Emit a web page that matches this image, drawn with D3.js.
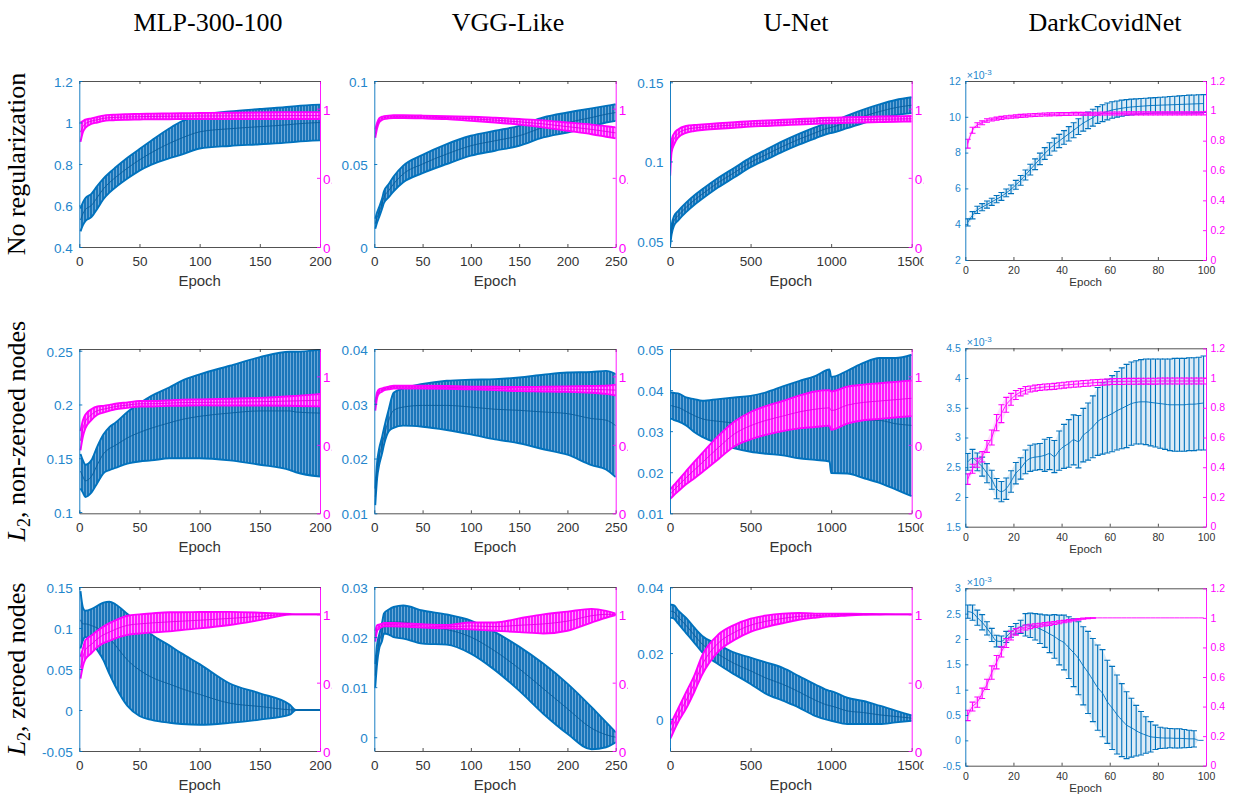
<!DOCTYPE html>
<html>
<head>
<meta charset="utf-8">
<script src="https://cdn.jsdelivr.net/npm/d3@7"></script>
<style>
html,body{margin:0;padding:0;background:#fff;}
svg{display:block;}
</style>
</head>
<body>
<svg id="chart" width="1237" height="798"></svg>
<script>
// ---------------- text ----------------
const columnTitles = ["MLP-300-100", "VGG-Like", "U-Net", "DarkCovidNet"];
const rowTitles = ["No regularization", ", non-zeroed nodes", ", zeroed nodes"];
const xLabel = "Epoch";
const dcnScaleLabel = ["×10", "-3"];

// ---------------- epochs (x samples) ----------------
const epochsMLP = [1,3,5,10,15,20,25,30,40,50,60,75,85,100,125,150,175,180,200];
const epochsVGG = [1,3,5,8,10,15,20,30,50,75,100,125,150,175,200,225,240,250];
const epochsUNet = [1,10,25,50,100,150,200,300,400,500,600,700,800,900,990,1000,1100,1200,1300,1400,1500];
const epochsDCN = [1,3,5,7,9,11,13,15,17,19,21,23,25,27,29,31,33,35,37,39,41,43,45,47,49,51,53,55,57,59,61,63,65,67,69,71,73,75,77,79,81,83,85,87,89,91,93,95,97,99];

// ---------------- ticks ----------------
const xTicksMLP = [0,50,100,150,200];
const xTicksVGG = [0,50,100,150,200,250];
const xTicksUNet = [0,500,1000,1500];
const xTicksDCN = [0,20,40,60,80,100];
const rightTicks = [0,0.5,1];
const rightTicksDCN = [0,0.2,0.4,0.6,0.8,1,1.2];
const yTicksMLPNone = [0.4,0.6,0.8,1,1.2];
const yTicksVGGNone = [0,0.05,0.1];
const yTicksUNetNone = [0.05,0.1,0.15];
const yTicksDCNNone = [2,4,6,8,10,12];
const yTicksMLPL2 = [0.1,0.15,0.2,0.25];
const yTicksVGGL2 = [0.01,0.02,0.03,0.04];
const yTicksUNetL2 = [0.01,0.02,0.03,0.04,0.05];
const yTicksDCNL2 = [1.5,2,2.5,3,3.5,4,4.5];
const yTicksMLPZero = [-0.05,0,0.05,0.1,0.15];
const yTicksVGGZero = [0,0.01,0.02,0.03];
const yTicksUNetZero = [0,0.02,0.04];
const yTicksDCNZero = [-0.5,0,0.5,1,1.5,2,2.5,3];

// ---------------- MLP-300-100 ----------------
const mlpNoneBlue    = [0.53,0.56,0.58,0.60,0.64,0.68,0.71,0.735,0.78,0.82,0.855,0.90,0.925,0.955,0.97,0.98,0.99,0.993,1.0];
const mlpNoneBlueErr = [0.055,0.055,0.055,0.056,0.055,0.05,0.048,0.048,0.05,0.052,0.058,0.072,0.08,0.08,0.083,0.085,0.086,0.086,0.086];
const mlpNonePink    = [0.83,0.87,0.89,0.91,0.92,0.93,0.935,0.937,0.94,0.942,0.944,0.945,0.946,0.947,0.948,0.949,0.95,0.95,0.95];
const mlpNonePinkErr = [0.07,0.04,0.03,0.02,0.02,0.02,0.02,0.02,0.02,0.02,0.02,0.021,0.021,0.022,0.023,0.024,0.025,0.025,0.025];

const mlpL2Blue    = [0.138,0.133,0.129,0.133,0.144,0.154,0.159,0.162,0.169,0.174,0.178,0.183,0.186,0.189,0.192,0.194,0.194,0.193,0.192];
const mlpL2BlueErr = [0.016,0.015,0.015,0.015,0.017,0.018,0.02,0.021,0.024,0.027,0.03,0.033,0.036,0.039,0.044,0.05,0.055,0.056,0.059];
const mlpL2Pink    = [0.53,0.62,0.67,0.72,0.75,0.76,0.77,0.78,0.79,0.80,0.80,0.805,0.808,0.81,0.812,0.815,0.82,0.821,0.826];
const mlpL2PinkErr = [0.07,0.06,0.05,0.04,0.03,0.025,0.022,0.02,0.02,0.02,0.02,0.02,0.022,0.022,0.025,0.028,0.035,0.037,0.045];

const mlpZeroBlue    = [0.11,0.105,0.105,0.103,0.10,0.096,0.088,0.079,0.061,0.0487,0.04,0.0315,0.026,0.019,0.0083,0.0043,0.0003,0,0];
const mlpZeroBlueErr = [0.035,0.02,0.016,0.02,0.027,0.035,0.044,0.05,0.056,0.056,0.052,0.047,0.043,0.037,0.024,0.016,0.006,0,0];
const mlpZeroPink    = [0.61,0.685,0.74,0.78,0.82,0.85,0.87,0.89,0.92,0.93,0.937,0.945,0.95,0.957,0.97,0.985,1.0,1.0,1.0];
const mlpZeroPinkErr = [0.08,0.065,0.07,0.065,0.06,0.06,0.065,0.066,0.07,0.07,0.07,0.07,0.065,0.06,0.048,0.027,0.002,0,0];

// ---------------- VGG-Like ----------------
const vggNoneBlue    = [0.014,0.018,0.021,0.026,0.03,0.034,0.038,0.044,0.05,0.056,0.061,0.064,0.067,0.072,0.075,0.078,0.08,0.081];
const vggNoneBlueErr = [0.003,0.003,0.003,0.003,0.0035,0.004,0.0045,0.005,0.0055,0.006,0.006,0.006,0.006,0.006,0.006,0.0055,0.005,0.005];
const vggNonePink    = [0.82,0.88,0.915,0.93,0.935,0.94,0.942,0.942,0.94,0.935,0.927,0.917,0.905,0.89,0.87,0.85,0.835,0.825];
const vggNonePinkErr = [0.03,0.02,0.015,0.012,0.01,0.01,0.01,0.01,0.01,0.01,0.015,0.017,0.02,0.025,0.03,0.035,0.038,0.04];

const vggL2Blue    = [0.013,0.018,0.0203,0.0224,0.024,0.027,0.0288,0.0294,0.0297,0.0297,0.0294,0.029,0.0288,0.0285,0.0282,0.0273,0.027,0.026];
const vggL2BlueErr = [0.0015,0.0015,0.0015,0.0015,0.0015,0.002,0.0032,0.0034,0.0039,0.0045,0.005,0.0055,0.006,0.0068,0.0075,0.0085,0.009,0.0094];
const vggL2Pink    = [0.78,0.866,0.89,0.90,0.907,0.915,0.922,0.922,0.922,0.92,0.915,0.912,0.907,0.907,0.907,0.905,0.902,0.90];
const vggL2PinkErr = [0.03,0.02,0.015,0.012,0.01,0.01,0.01,0.01,0.01,0.01,0.01,0.012,0.015,0.017,0.02,0.025,0.03,0.04];

const vggZeroBlue    = [0.0123,0.0168,0.019,0.021,0.0227,0.023,0.023,0.023,0.022,0.0215,0.02,0.0172,0.0137,0.0097,0.0057,0.0018,0.0005,0.0];
const vggZeroBlueErr = [0.0023,0.0019,0.0014,0.0018,0.002,0.0025,0.003,0.0033,0.0033,0.003,0.0033,0.0038,0.0044,0.005,0.005,0.0042,0.0025,0.001];
const vggZeroPink    = [0.84,0.90,0.91,0.92,0.925,0.925,0.925,0.922,0.915,0.91,0.915,0.91,0.92,0.93,0.95,0.99,1.0,1.0];
const vggZeroPinkErr = [0.04,0.02,0.015,0.012,0.012,0.012,0.012,0.012,0.012,0.012,0.025,0.03,0.05,0.07,0.07,0.05,0.025,0.005];

// ---------------- U-Net ----------------
const unetNoneBlue    = [0.05,0.057,0.0625,0.0657,0.071,0.0755,0.0794,0.0867,0.093,0.0994,0.1045,0.1095,0.114,0.118,0.1213,0.1215,0.125,0.1285,0.1315,0.134,0.1355];
const unetNoneBlueErr = [0.003,0.003,0.003,0.003,0.003,0.003,0.003,0.003,0.003,0.003,0.0032,0.0033,0.0034,0.0035,0.0035,0.0035,0.004,0.0042,0.0045,0.0048,0.005];
const unetNonePink    = [0.57,0.73,0.78,0.82,0.85,0.86,0.866,0.875,0.882,0.89,0.895,0.9,0.905,0.91,0.915,0.915,0.918,0.92,0.923,0.925,0.927];
const unetNonePinkErr = [0.055,0.045,0.04,0.03,0.025,0.022,0.02,0.02,0.02,0.02,0.02,0.02,0.02,0.02,0.02,0.02,0.02,0.02,0.02,0.02,0.02];

const unetL2Blue    = [0.0362,0.0362,0.036,0.0358,0.0348,0.0338,0.033,0.0324,0.032,0.0318,0.032,0.0325,0.0328,0.0332,0.0338,0.0315,0.0322,0.0326,0.0326,0.0318,0.0314];
const unetL2BlueErr = [0.0032,0.0032,0.0033,0.0034,0.0034,0.004,0.0044,0.0054,0.0062,0.0068,0.0075,0.0084,0.0094,0.0102,0.0112,0.0117,0.0125,0.014,0.0152,0.016,0.0172];
const unetL2Pink    = [0.14,0.15,0.17,0.2,0.26,0.315,0.37,0.48,0.58,0.64,0.68,0.71,0.74,0.76,0.77,0.75,0.79,0.81,0.82,0.83,0.84];
const unetL2PinkErr = [0.035,0.035,0.037,0.04,0.048,0.06,0.07,0.085,0.09,0.1,0.105,0.11,0.12,0.13,0.13,0.14,0.135,0.13,0.13,0.13,0.13];

const unetZeroBlue    = [0.0327,0.0327,0.0325,0.031,0.0284,0.0255,0.0227,0.0196,0.0168,0.0146,0.0123,0.0105,0.0082,0.0057,0.004,0.0039,0.0024,0.0019,0.0012,0.0007,0.0002];
const unetZeroBlueErr = [0.002,0.002,0.002,0.002,0.0023,0.0023,0.0025,0.003,0.0033,0.004,0.0048,0.005,0.0048,0.0048,0.0045,0.0045,0.004,0.0035,0.0028,0.0018,0.0008];
const unetZeroPink    = [0.14,0.16,0.2,0.26,0.37,0.49,0.63,0.79,0.868,0.92,0.95,0.97,0.985,0.99,0.995,0.995,0.998,1.0,1.0,1.0,1.0];
const unetZeroPinkErr = [0.05,0.05,0.05,0.05,0.06,0.06,0.07,0.062,0.055,0.048,0.042,0.035,0.025,0.015,0.01,0.01,0.006,0.003,0.001,0,0];

// ---------------- DarkCovidNet (blue values in units of 1e-3) ----------------
const dcnNoneBlue    = [4.1,4.5,4.8,4.95,5.1,5.25,5.4,5.55,5.75,5.95,6.2,6.45,6.75,7.05,7.35,7.65,7.95,8.2,8.45,8.65,8.85,9.05,9.25,9.45,9.65,9.8,9.95,10.1,10.2,10.3,10.38,10.43,10.48,10.52,10.55,10.57,10.59,10.61,10.63,10.64,10.65,10.66,10.67,10.68,10.69,10.7,10.71,10.72,10.73,10.74];
const dcnNoneBlueErr = [0.2,0.2,0.2,0.2,0.2,0.2,0.2,0.22,0.22,0.24,0.25,0.27,0.28,0.3,0.3,0.32,0.33,0.35,0.36,0.37,0.38,0.4,0.42,0.44,0.45,0.46,0.47,0.47,0.47,0.47,0.46,0.45,0.45,0.44,0.44,0.43,0.43,0.43,0.43,0.43,0.44,0.45,0.46,0.47,0.48,0.49,0.5,0.5,0.5,0.5];
const dcnNonePink    = [0.78,0.87,0.905,0.92,0.935,0.942,0.948,0.953,0.957,0.96,0.963,0.966,0.968,0.97,0.972,0.974,0.975,0.976,0.977,0.978,0.979,0.979,0.98,0.98,0.98,0.981,0.981,0.981,0.982,0.982,0.982,0.982,0.982,0.983,0.983,0.983,0.983,0.983,0.983,0.983,0.983,0.983,0.983,0.983,0.983,0.983,0.983,0.983,0.983,0.983];
const dcnNonePinkErr = [0.03,0.02,0.015,0.013,0.012,0.01,0.01,0.01,0.01,0.01,0.01,0.01,0.01,0.01,0.01,0.01,0.01,0.01,0.01,0.01,0.01,0.01,0.01,0.01,0.01,0.01,0.01,0.01,0.01,0.01,0.01,0.01,0.01,0.01,0.01,0.01,0.01,0.01,0.01,0.01,0.01,0.01,0.01,0.01,0.01,0.01,0.01,0.01,0.01,0.01];

const dcnL2Blue    = [2.59,2.65,2.59,2.51,2.4,2.29,2.14,2.09,2.14,2.26,2.4,2.48,2.59,2.65,2.67,2.68,2.7,2.73,2.68,2.78,2.85,2.9,2.96,2.93,3.04,3.1,3.18,3.27,3.32,3.36,3.4,3.45,3.49,3.53,3.57,3.59,3.6,3.6,3.59,3.58,3.57,3.56,3.55,3.55,3.55,3.55,3.56,3.56,3.57,3.58];
const dcnL2BlueErr = [0.14,0.15,0.15,0.16,0.16,0.16,0.17,0.17,0.18,0.18,0.18,0.18,0.2,0.22,0.22,0.22,0.27,0.27,0.27,0.33,0.37,0.4,0.42,0.44,0.45,0.48,0.52,0.57,0.6,0.62,0.64,0.66,0.68,0.7,0.7,0.7,0.71,0.72,0.73,0.74,0.75,0.76,0.77,0.78,0.78,0.78,0.78,0.78,0.78,0.79];
const dcnL2Pink    = [0.32,0.39,0.43,0.47,0.54,0.6,0.7,0.76,0.82,0.857,0.886,0.905,0.918,0.926,0.932,0.936,0.94,0.942,0.944,0.948,0.952,0.955,0.958,0.96,0.963,0.965,0.968,0.97,0.972,0.974,0.976,0.977,0.977,0.978,0.978,0.978,0.979,0.979,0.979,0.979,0.98,0.98,0.98,0.98,0.98,0.98,0.98,0.98,0.98,0.98];
const dcnL2PinkErr = [0.035,0.03,0.03,0.035,0.04,0.05,0.055,0.06,0.05,0.04,0.03,0.025,0.025,0.02,0.02,0.02,0.02,0.02,0.02,0.02,0.02,0.02,0.02,0.02,0.02,0.02,0.02,0.02,0.02,0.02,0.02,0.02,0.02,0.02,0.02,0.02,0.02,0.02,0.02,0.02,0.02,0.02,0.02,0.02,0.02,0.02,0.02,0.02,0.02,0.02];

const dcnZeroBlue    = [2.54,2.52,2.42,2.33,2.21,2.08,1.96,1.95,2.04,2.14,2.2,2.24,2.28,2.27,2.24,2.2,2.155,2.1,2.05,1.98,1.93,1.83,1.73,1.62,1.47,1.34,1.19,1.04,0.93,0.76,0.64,0.51,0.4,0.3,0.25,0.19,0.14,0.105,0.07,0.06,0.05,0.045,0.045,0.04,0.04,0.035,0.03,0.03,0,0];
const dcnZeroBlueErr = [0.13,0.15,0.15,0.15,0.13,0.13,0.115,0.11,0.11,0.105,0.105,0.13,0.22,0.24,0.26,0.29,0.32,0.37,0.43,0.49,0.54,0.61,0.67,0.72,0.77,0.81,0.82,0.84,0.86,0.82,0.82,0.78,0.72,0.66,0.58,0.5,0.43,0.36,0.3,0.24,0.21,0.2,0.19,0.19,0.19,0.18,0.17,0.16,0,0];
const dcnZeroPink    = [0.34,0.4,0.43,0.49,0.55,0.63,0.7,0.77,0.83,0.88,0.905,0.92,0.935,0.942,0.948,0.952,0.957,0.96,0.965,0.97,0.975,0.98,0.985,0.99,0.995,0.997,0.999,1,1,1,1,1,1,1,1,1,1,1,1,1,1,1,1,1,1,1,1,1,1,1];
const dcnZeroPinkErr = [0.035,0.03,0.035,0.035,0.035,0.045,0.045,0.035,0.03,0.03,0.022,0.017,0.017,0.015,0.012,0.012,0.011,0.011,0.01,0.01,0.008,0.008,0.006,0.005,0.004,0.003,0.002,0,0,0,0,0,0,0,0,0,0,0,0,0,0,0,0,0,0,0,0,0,0,0];

// ---------------- y domains ----------------
const yDomains = [
  [[0.4,1.2],[0,0.1],[0.046,0.1508],[2,12]],
  [[0.0988,0.2516],[0.01,0.04],[0.01,0.05],[1.5,4.5]],
  [[-0.05,0.15],[-0.00275,0.03],[-0.0098,0.0401],[-0.5,3]]
];
const rightDomain = [0,1.2];

// ---------------- layout / style ----------------
const BLUE = "#0072BD", MAG = "#FF00FF", BLUE_TXT = "#2386cc", AX_GRAY = "#262626";
const SANS = "'Liberation Sans', Arial, Helvetica, sans-serif";
const SERIF = "'Liberation Serif', 'Times New Roman', Times, serif";
const colX = [[79.3,320],[374.3,615.7],[670,911.7],[965.3,1206]];
const rowY = [[81,247],[349,513.3],[587,751]];
const rowYDCN = [[81,260],[348.3,526.7],[588.3,765.7]];
const clipRight = [331.8, 628, 923.5, null];
const titleX = [208, 508, 796, 1105];

const svg = d3.select("#chart");
const defs = svg.append("defs");
function stripePattern(id, light, dark){
  const p = defs.append("pattern").attr("id", id).attr("patternUnits","userSpaceOnUse").attr("width",3).attr("height",4);
  p.append("rect").attr("width",3).attr("height",4).attr("fill",light);
  p.append("rect").attr("width",2).attr("height",4).attr("fill",dark);
}
stripePattern("stripeB", "#6aa8d8", "#1a76ba");
stripePattern("stripeM", "#ff9cff", "#ff1aff");

const fmt = d => String(+d.toFixed(6));

const columns = [
  {epochs: epochsMLP, xDomain:[0,200], xTicks:xTicksMLP, yTicks:[yTicksMLPNone,yTicksMLPL2,yTicksMLPZero],
   data:[[mlpNoneBlue,mlpNoneBlueErr,mlpNonePink,mlpNonePinkErr],[mlpL2Blue,mlpL2BlueErr,mlpL2Pink,mlpL2PinkErr],[mlpZeroBlue,mlpZeroBlueErr,mlpZeroPink,mlpZeroPinkErr]]},
  {epochs: epochsVGG, xDomain:[0,250], xTicks:xTicksVGG, yTicks:[yTicksVGGNone,yTicksVGGL2,yTicksVGGZero],
   data:[[vggNoneBlue,vggNoneBlueErr,vggNonePink,vggNonePinkErr],[vggL2Blue,vggL2BlueErr,vggL2Pink,vggL2PinkErr],[vggZeroBlue,vggZeroBlueErr,vggZeroPink,vggZeroPinkErr]]},
  {epochs: epochsUNet, xDomain:[0,1500], xTicks:xTicksUNet, yTicks:[yTicksUNetNone,yTicksUNetL2,yTicksUNetZero],
   data:[[unetNoneBlue,unetNoneBlueErr,unetNonePink,unetNonePinkErr],[unetL2Blue,unetL2BlueErr,unetL2Pink,unetL2PinkErr],[unetZeroBlue,unetZeroBlueErr,unetZeroPink,unetZeroPinkErr]]},
  {epochs: epochsDCN, xDomain:[0,100], xTicks:xTicksDCN, yTicks:[yTicksDCNNone,yTicksDCNL2,yTicksDCNZero],
   data:[[dcnNoneBlue,dcnNoneBlueErr,dcnNonePink,dcnNonePinkErr],[dcnL2Blue,dcnL2BlueErr,dcnL2Pink,dcnL2PinkErr],[dcnZeroBlue,dcnZeroBlueErr,dcnZeroPink,dcnZeroPinkErr]]}
];

function drawSeries(g, x, y, ep, m, e, color, dense){
  const idx = d3.range(ep.length);
  const curve = d3.curveMonotoneX;
  const band = d3.area().x(i=>x(ep[i])).y0(i=>y(m[i]-e[i])).y1(i=>y(m[i]+e[i])).curve(curve);
  const mk = f => d3.line().x(i=>x(ep[i])).y(i=>y(f(i))).curve(curve);
  if (dense) {
    g.append("path").attr("d", band(idx)).attr("fill", color===BLUE ? "url(#stripeB)" : "url(#stripeM)");
    [i=>m[i]+e[i], i=>m[i]-e[i]].forEach(f =>
      g.append("path").attr("d", mk(f)(idx)).attr("fill","none").attr("stroke",color).attr("stroke-width",1.9));
    g.append("path").attr("d", mk(i=>m[i])(idx)).attr("fill","none")
      .attr("stroke", color===BLUE ? "#0a5d9c" : "#e600e6").attr("stroke-width",0.9);
  } else {
    g.append("path").attr("d", band(idx)).attr("fill", color).attr("fill-opacity", 0.14);
    g.append("path").attr("d", mk(i=>m[i])(idx)).attr("fill","none").attr("stroke",color).attr("stroke-width",0.9);
    const bars = g.append("g").attr("stroke", color).attr("stroke-width", 1.1);
    idx.filter(i => e[i] > 0).forEach(i => {
      const cx = x(ep[i]), yt = y(m[i]+e[i]), yb = y(m[i]-e[i]);
      bars.append("line").attr("x1",cx).attr("x2",cx).attr("y1",yt).attr("y2",yb);
      bars.append("line").attr("x1",cx-3).attr("x2",cx+3).attr("y1",yt).attr("y2",yt);
      bars.append("line").attr("x1",cx-3).attr("x2",cx+3).attr("y1",yb).attr("y2",yb);
    });
  }
}

let clipId = 0;
columns.forEach((col, c) => {
  const small = c === 3;
  const [x0, x1] = colX[c];
  for (let r = 0; r < 3; r++) {
    const [y0, y1] = small ? rowYDCN[r] : rowY[r];
    const g = svg.append("g");
    if (clipRight[c]) {
      const id = "pc" + (clipId++);
      defs.append("clipPath").attr("id", id).append("rect")
        .attr("x", x0 - 75).attr("y", y0 - 30).attr("width", clipRight[c] - (x0 - 75)).attr("height", y1 - y0 + 80);
      g.attr("clip-path", `url(#${id})`);
    }
    const x = d3.scaleLinear().domain(col.xDomain).range([x0, x1]);
    const yL = d3.scaleLinear().domain(yDomains[r][c]).range([y1, y0]);
    const yR = d3.scaleLinear().domain(rightDomain).range([y1, y0]);

    const pid = "pa" + (clipId++);
    defs.append("clipPath").attr("id", pid).append("rect").attr("x", x0).attr("y", y0).attr("width", x1 - x0).attr("height", y1 - y0);
    const pg = g.append("g").attr("clip-path", `url(#${pid})`);
    const [bm, be, pm, pe] = col.data[r];
    drawSeries(pg, x, yL, col.epochs, bm, be, BLUE, !small);
    drawSeries(pg, x, yR, col.epochs, pm, pe, MAG, !small);

    const fs = small ? 10.5 : 13.5;
    // top box edge
    const top = g.append("g").attr("transform", `translate(0,${y0})`)
      .call(d3.axisTop(x).tickValues(col.xTicks).tickSize(-3).tickSizeOuter(0).tickFormat(""));
    top.selectAll("path,line").attr("stroke", AX_GRAY).attr("stroke-width", 0.8);
    // bottom axis
    const bot = g.append("g").attr("transform", `translate(0,${y1})`)
      .call(d3.axisBottom(x).tickValues(col.xTicks).tickSize(-3).tickSizeOuter(0).tickPadding(small ? 7 : 9.5).tickFormat(fmt));
    bot.attr("font-family", SANS).attr("font-size", fs);
    bot.selectAll("path,line").attr("stroke", AX_GRAY).attr("stroke-width", 0.8);
    bot.selectAll("text").attr("fill", "#333");
    // left axis
    const left = g.append("g").attr("transform", `translate(${x0},0)`)
      .call(d3.axisLeft(yL).tickValues(col.yTicks[r]).tickSize(-3).tickSizeOuter(0).tickPadding(small ? 4.5 : 6.5).tickFormat(fmt));
    left.attr("font-family", SANS).attr("font-size", fs);
    left.selectAll("path,line").attr("stroke", BLUE).attr("stroke-width", 0.9);
    left.selectAll("text").attr("fill", BLUE_TXT).attr("dy", small ? "0.32em" : "0.4em");
    // right axis
    const right = g.append("g").attr("transform", `translate(${x1},0)`)
      .call(d3.axisRight(yR).tickValues(small ? rightTicksDCN : rightTicks).tickSize(-3).tickSizeOuter(0).tickPadding(small ? 4.5 : 3).tickFormat(fmt));
    right.attr("font-family", SANS).attr("font-size", fs);
    right.selectAll("path,line").attr("stroke", MAG).attr("stroke-width", 0.9);
    right.selectAll("text").attr("fill", MAG).attr("dy", small ? "0.3em" : "0.4em");
    // x label
    g.append("text").attr("x", (x0 + x1) / 2).attr("y", y1 + (small ? 26 : 39))
      .attr("text-anchor", "middle").attr("font-family", SANS).attr("font-size", small ? 11.5 : 15).attr("fill", "#333").text(xLabel);
    // exponent label
    if (small) {
      const t = g.append("text").attr("x", x0 + 1.5).attr("y", y0 - 2.5).attr("font-family", SANS).attr("font-size", 10.5).attr("fill", BLUE_TXT).text(dcnScaleLabel[0]);
      t.append("tspan").attr("dy", -4).attr("font-size", 8).text(dcnScaleLabel[1]);
    }
  }
  // column title
  svg.append("text").attr("x", titleX[c]).attr("y", 31).attr("text-anchor", "middle")
    .attr("font-family", SERIF).attr("font-size", 26).attr("fill", "#000").text(columnTitles[c]);
});

// row titles
rowY.forEach((ry, r) => {
  const cy = (ry[0] + ry[1]) / 2;
  const t = svg.append("text").attr("transform", `translate(25,${cy}) rotate(-90)`)
    .attr("text-anchor", "middle").attr("font-family", SERIF).attr("font-size", 26).attr("fill", "#000");
  if (r === 0) {
    t.text(rowTitles[0]);
  } else {
    t.append("tspan").attr("font-style", "italic").text("L");
    t.append("tspan").attr("font-size", 18).attr("dy", 5).text("2");
    t.append("tspan").attr("dy", -5).text(rowTitles[r]);
  }
});
</script>
</body>
</html>
